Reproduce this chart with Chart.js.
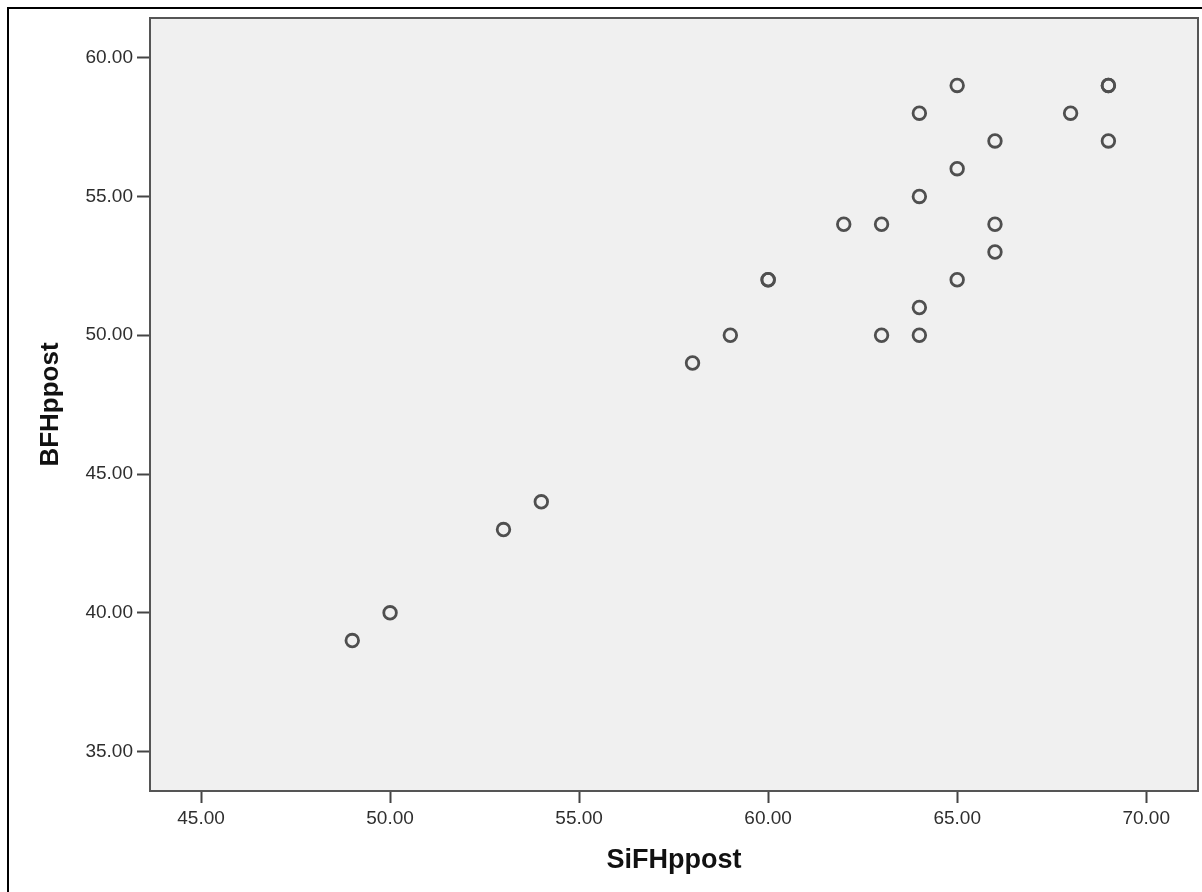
<!DOCTYPE html>
<html>
<head>
<meta charset="utf-8">
<title>SiFHppost vs BFHppost</title>
<script src="https://cdn.jsdelivr.net/npm/chart.js@4/dist/chart.umd.min.js"></script>
<style>
  html, body { margin: 0; padding: 0; background: #fff; }
  canvas { display: block; }
</style>
</head>
<body>
<canvas id="scatter" width="1202" height="892"></canvas>
<script>
// Observations (duplicates are plotted on top of each other)
const sifhPost = [49, 50, 53, 54, 58, 59, 60, 60, 62, 63, 63, 64, 64, 64, 64, 65, 65, 65, 66, 66, 66, 68, 69, 69, 69];
const bfhPost  = [39, 40, 43, 44, 49, 50, 52, 52, 54, 54, 50, 58, 55, 51, 50, 59, 56, 52, 57, 54, 53, 58, 59, 59, 57];

const xTicks = [45, 50, 55, 60, 65, 70];
const yTicks = [35, 40, 45, 50, 55, 60];

const xLabel = "SiFHppost";
const yLabel = "BFHppost";

const points = sifhPost.map((x, i) => ({ x, y: bfhPost[i] }));

// page background, grey plot panel, closing border lines and outer frame
const panel = {
    id: "panel",
    beforeDraw(chart) {
        const { ctx, width, height, chartArea: a } = chart;
        ctx.save();
        ctx.fillStyle = "#ffffff";
        ctx.fillRect(0, 0, width, height);
        ctx.fillStyle = "#f0f0f0";
        ctx.fillRect(a.left, a.top, a.right - a.left, a.bottom - a.top);
        ctx.restore();
    },
    afterDraw(chart) {
        const { ctx, chartArea: a } = chart;
        ctx.save();
        ctx.strokeStyle = "#555555";
        ctx.lineWidth = 2;
        ctx.beginPath();
        ctx.moveTo(a.left, a.top);
        ctx.lineTo(a.right, a.top);
        ctx.lineTo(a.right, a.bottom);
        ctx.stroke();
        ctx.strokeStyle = "#000000";
        ctx.lineWidth = 2;
        ctx.strokeRect(8, 8, 1400, 1200);
        ctx.restore();
    }
};

const tickFont = { family: "'Liberation Sans', Arial, sans-serif", size: 19 };
const titleFont = { family: "'Liberation Sans', Arial, sans-serif", size: 27, weight: "bold" };

new Chart(document.getElementById("scatter"), {
    type: "scatter",
    data: {
        datasets: [{
            data: points,
            pointRadius: 6.3,
            pointHoverRadius: 6.3,
            pointBorderWidth: 2.8,
            pointBorderColor: "#4f4f4f",
            pointBackgroundColor: "rgba(0,0,0,0)"
        }]
    },
    options: {
        responsive: false,
        animation: false,
        layout: { autoPadding: false, padding: { top: 18, right: 4, left: 0, bottom: 0 } },
        plugins: {
            legend: { display: false },
            tooltip: { enabled: false }
        },
        scales: {
            x: {
                type: "linear",
                min: 43.65,
                max: 71.37,
                afterBuildTicks(scale) { scale.ticks = xTicks.map(value => ({ value })); },
                afterFit(scale) {
                    scale.height = 101;
                    scale.paddingLeft = 0;
                    scale.paddingRight = 0;
                },
                grid: { drawOnChartArea: false, drawTicks: true, tickLength: 12, tickColor: "#444", tickWidth: 2 },
                border: { display: true, color: "#555555", width: 2 },
                ticks: {
                    color: "#2e2e2e",
                    font: tickFont,
                    padding: 4,
                    maxRotation: 0,
                    callback: v => Number(v).toFixed(2)
                },
                title: {
                    display: true,
                    text: xLabel,
                    color: "#111",
                    font: titleFont,
                    padding: { top: 0, bottom: 15 }
                }
            },
            y: {
                type: "linear",
                min: 33.58,
                max: 61.43,
                afterBuildTicks(scale) { scale.ticks = yTicks.map(value => ({ value })); },
                afterFit(scale) { scale.width = 150; },
                grid: { drawOnChartArea: false, drawTicks: true, tickLength: 13, tickColor: "#444", tickWidth: 2 },
                border: { display: true, color: "#555555", width: 2 },
                ticks: {
                    color: "#2e2e2e",
                    font: tickFont,
                    padding: 4,
                    callback: v => Number(v).toFixed(2)
                },
                title: {
                    display: true,
                    text: yLabel,
                    color: "#111",
                    font: { ...titleFont, size: 26 },
                    padding: { top: 35, bottom: 0 }
                }
            }
        }
    },
    plugins: [panel]
});
</script>
</body>
</html>
